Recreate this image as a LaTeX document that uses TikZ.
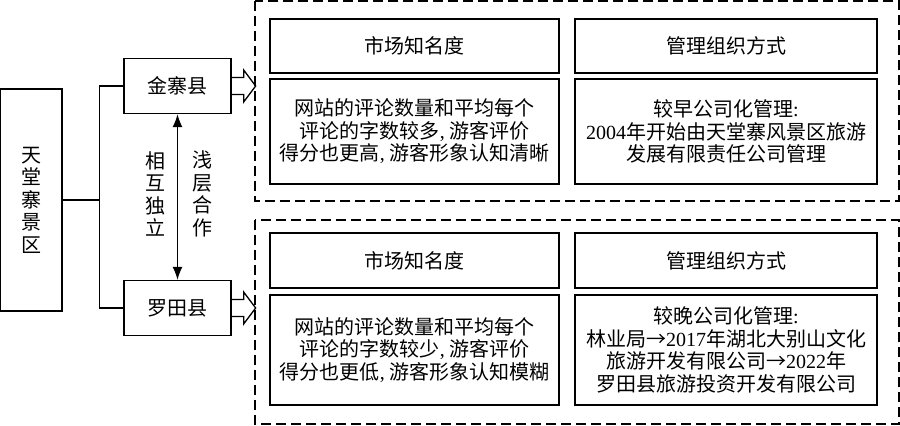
\documentclass[tikz,border=0pt]{standalone}
\usepackage{fontspec}
\setmainfont{Noto Sans CJK SC}
\newfontfamily\latin{Liberation Serif}
\usetikzlibrary{arrows.meta}
\begin{document}
\begin{tikzpicture}[x=0.5pt,y=-0.5pt,line width=0.65pt,>={Latex[length=6.5pt,width=5pt]},
  box/.style={draw,align=center,inner sep=0pt,font=\fontsize{10}{11.25}\selectfont},
  txt/.style={align=center,inner sep=0pt,font=\fontsize{10}{11.25}\selectfont},
  group/.style={draw,dash pattern=on 5pt off 2.5pt}]
\useasboundingbox (0,0) rectangle (900,425);
\draw[group] (255,1) rectangle (899,201);
\draw[group] (255,220) rectangle (899,424);
\node[box,minimum width=30.75pt,minimum height=111pt] (area) at (31.25,200) {天\\堂\\寨\\景\\区};
\node[box,minimum width=53.5pt,minimum height=27.5pt] (jz) at (177.5,86) {金寨县};
\node[box,minimum width=53.5pt,minimum height=27.5pt] (lt) at (177.5,308) {罗田县};
\draw (area.east) -- ++(37,0) coordinate (bus);
\draw (jz.west) -| (bus) |- (lt.west);
\draw[<->] (jz.south) -- (lt.north);
\node[txt] (indep) at (155,194) {相\\互\\独\\立};
\node[txt] (coop) at (202,194) {浅\\层\\合\\作};
\draw (jz.east) ++(0,-8.5) -- ++(12,0) -- ++(0,-7.5) -- ++(12,16) -- ++(-12,16) -- ++(0,-7.5) -- ++(-12,0);
\draw (lt.east) ++(0,-8.5) -- ++(12,0) -- ++(0,-7.5) -- ++(12,16) -- ++(-12,16) -- ++(0,-7.5) -- ++(-12,0);
\node[box,minimum width=144.5pt,minimum height=27pt] (fame1) at (414.5,46) {市场知名度};
\node[box,minimum width=151pt,minimum height=27pt] (mgmt1) at (726,46) {管理组织方式};
\node[box,minimum width=144.5pt,minimum height=52.5pt] (fameinfo1) at (414.5,131.5)
  {网站的评论数量和平均每个\\评论的字数较多{\latin,} 游客评价\\得分也更高{\latin,} 游客形象认知清晰};
\node[box,minimum width=151pt,minimum height=52.5pt] (mgmtinfo1) at (726,131.5)
  {较早公司化管理{\latin:}\\{\latin 2004}年开始由天堂寨风景区旅游\\发展有限责任公司管理};
\node[box,minimum width=144.5pt,minimum height=27.5pt] (fame2) at (414.5,260.5) {市场知名度};
\node[box,minimum width=151pt,minimum height=27.5pt] (mgmt2) at (726,260.5) {管理组织方式};
\node[box,minimum width=144.5pt,minimum height=55pt] (fameinfo2) at (414.5,350)
  {网站的评论数量和平均每个\\评论的字数较少{\latin,} 游客评价\\得分也更低{\latin,} 游客形象认知模糊};
\node[box,minimum width=151pt,minimum height=55pt] (mgmtinfo2) at (726,350)
  {较晚公司化管理{\latin:}\\林业局→{\latin 2017}年湖北大别山文化\\旅游开发有限公司→{\latin 2022}年\\罗田县旅游投资开发有限公司};
\end{tikzpicture}
\end{document}
